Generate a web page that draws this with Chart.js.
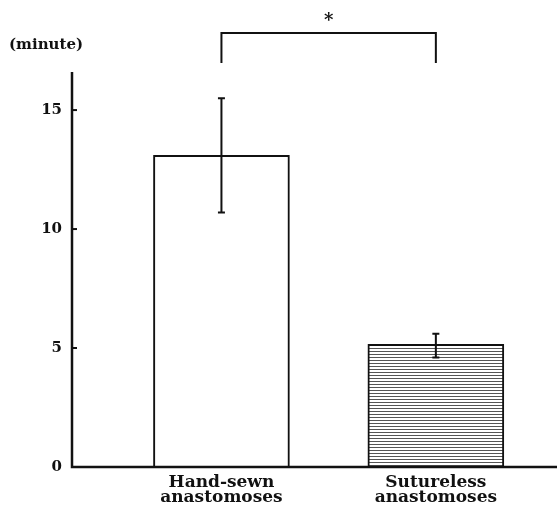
<!DOCTYPE html>
<html>
<head>
<meta charset="utf-8">
<script src="https://cdn.jsdelivr.net/npm/chart.js@4"></script>
<style>
  html, body { margin: 0; padding: 0; background: #fff; }
  #wrap { width: 557px; height: 508px; }
</style>
</head>
<body>
<div id="wrap"><canvas id="chart" width="557" height="508"></canvas></div>
<script>
const categories = [['Hand-sewn', 'anastomoses'], ['Sutureless', 'anastomoses']];
const positions = [1, 2];
const means = [13.1, 5.15];
const errLow = [10.7, 4.6];
const errHigh = [15.5, 5.6];
const yTicks = [0, 5, 10, 15];
const unitLabel = '(minute)';
const sigLabel = '*';

const FONT = '"DejaVu Serif", "Liberation Serif", serif';

// horizontal line hatch for the second bar
function hatch() {
    const c = document.createElement('canvas');
    c.width = 4; c.height = 3;
    const g = c.getContext('2d');
    g.fillStyle = '#ffffff';
    g.fillRect(0, 0, 4, 3);
    g.fillStyle = '#555555';
    g.fillRect(0, 0, 4, 1);
    return g.createPattern(c, 'repeat');
}

const extras = {
    id: 'extras',
    afterDatasetsDraw(chart) {
        const ctx = chart.ctx;
        const x = chart.scales.x;
        const y = chart.scales.y;

        ctx.save();
        ctx.strokeStyle = '#111';
        ctx.lineWidth = 2;

        // error bars
        positions.forEach((p, i) => {
            const px = x.getPixelForValue(p);
            const top = y.getPixelForValue(errHigh[i]);
            const bot = y.getPixelForValue(errLow[i]);
            ctx.beginPath();
            ctx.moveTo(px, top); ctx.lineTo(px, bot);
            ctx.moveTo(px - 3.5, top); ctx.lineTo(px + 3.5, top);
            ctx.moveTo(px - 3.5, bot); ctx.lineTo(px + 3.5, bot);
            ctx.stroke();
        });

        // inward tick marks on the y axis
        const ax = x.left;
        yTicks.slice(1).forEach(v => {
            const py = y.getPixelForValue(v);
            ctx.beginPath();
            ctx.moveTo(ax, py); ctx.lineTo(ax + 5, py);
            ctx.stroke();
        });

        // axes
        ctx.lineWidth = 2.5;
        ctx.beginPath();
        ctx.moveTo(ax, y.getPixelForValue(y.max));
        ctx.lineTo(ax, y.getPixelForValue(0));
        ctx.lineTo(chart.width, y.getPixelForValue(0));
        ctx.stroke();

        // significance bracket
        const x1 = x.getPixelForValue(positions[0]);
        const x2 = x.getPixelForValue(positions[1]);
        ctx.lineWidth = 2;
        ctx.beginPath();
        ctx.moveTo(x1, 63); ctx.lineTo(x1, 33);
        ctx.lineTo(x2, 33); ctx.lineTo(x2, 63);
        ctx.stroke();

        ctx.fillStyle = '#111';
        ctx.font = 'bold 18px ' + FONT;
        ctx.textAlign = 'center';
        ctx.textBaseline = 'middle';
        ctx.fillText(sigLabel, (x1 + x2) / 2, 21);

        ctx.font = 'bold 15px ' + FONT;
        ctx.textAlign = 'left';
        ctx.fillText(unitLabel, 9, 45);
        ctx.restore();
    }
};

new Chart(document.getElementById('chart'), {
    type: 'bar',
    data: {
        datasets: [{
            data: positions.map((p, i) => ({ x: p, y: means[i] })),
            backgroundColor: ['#ffffff', hatch()],
            borderColor: '#111',
            borderWidth: 2,
            borderSkipped: 'bottom',
            barThickness: 136
        }]
    },
    options: {
        responsive: false,
        animation: false,
        layout: { padding: { top: 72, right: 0, left: 0, bottom: 0 } },
        plugins: { legend: { display: false }, tooltip: { enabled: false } },
        scales: {
            x: {
                type: 'linear',
                offset: false,
                min: 0.303,
                max: 2.565,
                afterFit: s => { s.height = 41; },
                afterBuildTicks: s => { s.ticks = positions.map(v => ({ value: v })); },
                ticks: {
                    autoSkip: false,
                    maxRotation: 0,
                    padding: 8,
                    color: '#111',
                    font: { family: FONT, size: 17, weight: 'bold', lineHeight: 0.9 },
                    callback: (v) => categories[positions.indexOf(v)] || ''
                },
                grid: { display: false, drawTicks: false, offset: false },
                border: { display: false }
            },
            y: {
                min: 0,
                max: 16.6,
                afterFit: s => { s.width = 72; },
                afterBuildTicks: s => { s.ticks = yTicks.map(v => ({ value: v })); },
                ticks: {
                    padding: 10,
                    color: '#111',
                    font: { family: FONT, size: 15, weight: 'bold' }
                },
                grid: { display: false, drawTicks: false },
                border: { display: false }
            }
        }
    },
    plugins: [extras]
});
</script>
</body>
</html>
